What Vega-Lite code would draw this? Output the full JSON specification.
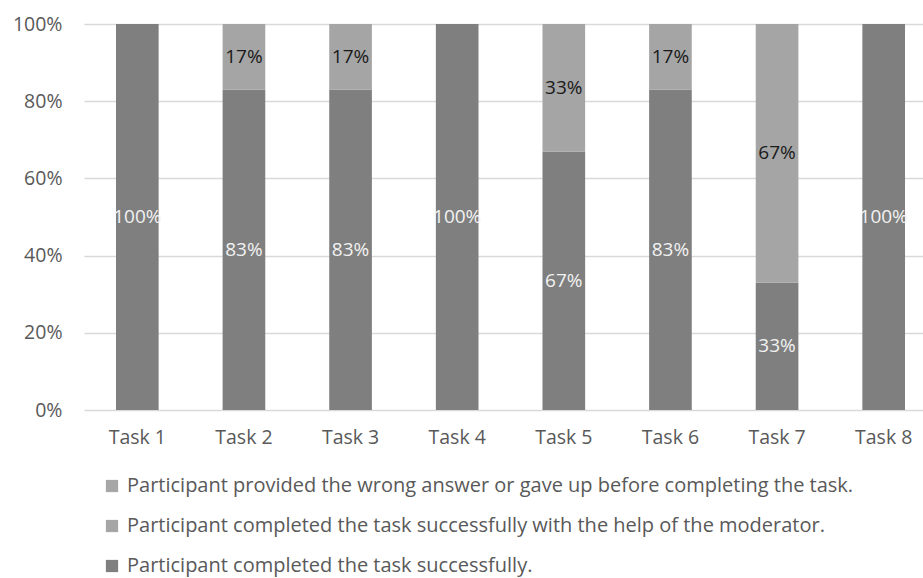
{
  "$schema": "https://vega.github.io/schema/vega-lite/v6.json",
  "width": 839,
  "height": 386,
  "autosize": {"type": "none"},
  "padding": {"left": 84, "top": 24, "right": 0, "bottom": 168},
  "background": "white",
  "config": {
    "font": "Open Sans",
    "view": {"stroke": null},
    "axis": {"labelFont": "Open Sans", "labelColor": "#595959", "labelFontSize": 19.5}
  },
  "data": {
    "values": [
      {"task": "Task 1", "status": "Participant completed the task successfully.", "value": 1.0},
      {"task": "Task 1", "status": "Participant completed the task successfully with the help of the moderator.", "value": 0},
      {"task": "Task 1", "status": "Participant provided the wrong answer or gave up before completing the task.", "value": 0},
      {"task": "Task 2", "status": "Participant completed the task successfully.", "value": 0.83},
      {"task": "Task 2", "status": "Participant completed the task successfully with the help of the moderator.", "value": 0.17},
      {"task": "Task 2", "status": "Participant provided the wrong answer or gave up before completing the task.", "value": 0},
      {"task": "Task 3", "status": "Participant completed the task successfully.", "value": 0.83},
      {"task": "Task 3", "status": "Participant completed the task successfully with the help of the moderator.", "value": 0.17},
      {"task": "Task 3", "status": "Participant provided the wrong answer or gave up before completing the task.", "value": 0},
      {"task": "Task 4", "status": "Participant completed the task successfully.", "value": 1.0},
      {"task": "Task 4", "status": "Participant completed the task successfully with the help of the moderator.", "value": 0},
      {"task": "Task 4", "status": "Participant provided the wrong answer or gave up before completing the task.", "value": 0},
      {"task": "Task 5", "status": "Participant completed the task successfully.", "value": 0.67},
      {"task": "Task 5", "status": "Participant completed the task successfully with the help of the moderator.", "value": 0.33},
      {"task": "Task 5", "status": "Participant provided the wrong answer or gave up before completing the task.", "value": 0},
      {"task": "Task 6", "status": "Participant completed the task successfully.", "value": 0.83},
      {"task": "Task 6", "status": "Participant completed the task successfully with the help of the moderator.", "value": 0.17},
      {"task": "Task 6", "status": "Participant provided the wrong answer or gave up before completing the task.", "value": 0},
      {"task": "Task 7", "status": "Participant completed the task successfully.", "value": 0.33},
      {"task": "Task 7", "status": "Participant completed the task successfully with the help of the moderator.", "value": 0.67},
      {"task": "Task 7", "status": "Participant provided the wrong answer or gave up before completing the task.", "value": 0},
      {"task": "Task 8", "status": "Participant completed the task successfully.", "value": 1.0},
      {"task": "Task 8", "status": "Participant completed the task successfully with the help of the moderator.", "value": 0},
      {"task": "Task 8", "status": "Participant provided the wrong answer or gave up before completing the task.", "value": 0}
    ]
  },
  "transform": [
    {"stack": "value", "groupby": ["task"], "sort": [{"field": "status", "order": "descending"}], "as": ["v0", "v1"]},
    {"calculate": "(datum.v0 + datum.v1) / 2", "as": "mid"}
  ],
  "encoding": {
    "x": {
      "field": "task",
      "type": "nominal",
      "scale": {"range": [0, 853], "paddingInner": 0.6, "paddingOuter": 0.3},
      "axis": {"title": null, "labelAngle": 0, "domain": false, "ticks": false, "labelPadding": 18}
    }
  },
  "layer": [
    {
      "mark": {"type": "bar"},
      "encoding": {
        "y": {
          "field": "v0",
          "type": "quantitative",
          "scale": {"domain": [0, 1], "nice": false},
          "axis": {
            "title": null,
            "format": ".0%",
            "values": [0, 0.2, 0.4, 0.6, 0.8, 1],
            "domain": false,
            "ticks": false,
            "labelPadding": 22,
            "gridColor": "#d9d9d9",
            "gridWidth": 1.5
          }
        },
        "y2": {"field": "v1"},
        "color": {
          "field": "status",
          "type": "nominal",
          "scale": {
            "domain": [
              "Participant provided the wrong answer or gave up before completing the task.",
              "Participant completed the task successfully with the help of the moderator.",
              "Participant completed the task successfully."
            ],
            "range": ["#a6a6a6", "#a5a5a5", "#7f7f7f"]
          },
          "legend": {
            "title": null,
            "orient": "none",
            "legendX": 18,
            "legendY": 452,
            "direction": "vertical",
            "symbolType": "square",
            "symbolSize": 150,
            "symbolStrokeWidth": 0,
            "labelFont": "Open Sans",
            "labelFontSize": 20,
            "labelColor": "#595959",
            "labelLimit": 900,
            "labelOffset": 5,
            "rowPadding": 20
          }
        }
      }
    },
    {
      "transform": [{"filter": "datum.value > 0"}],
      "mark": {"type": "text", "fontSize": 19, "baseline": "middle", "align": "center"},
      "encoding": {
        "y": {"field": "mid", "type": "quantitative"},
        "text": {"field": "value", "type": "quantitative", "format": ".0%"},
        "color": {
          "condition": {"test": "datum.status === 'Participant completed the task successfully.'", "value": "#f2f2f2"},
          "value": "#1a1a1a"
        }
      }
    }
  ]
}
